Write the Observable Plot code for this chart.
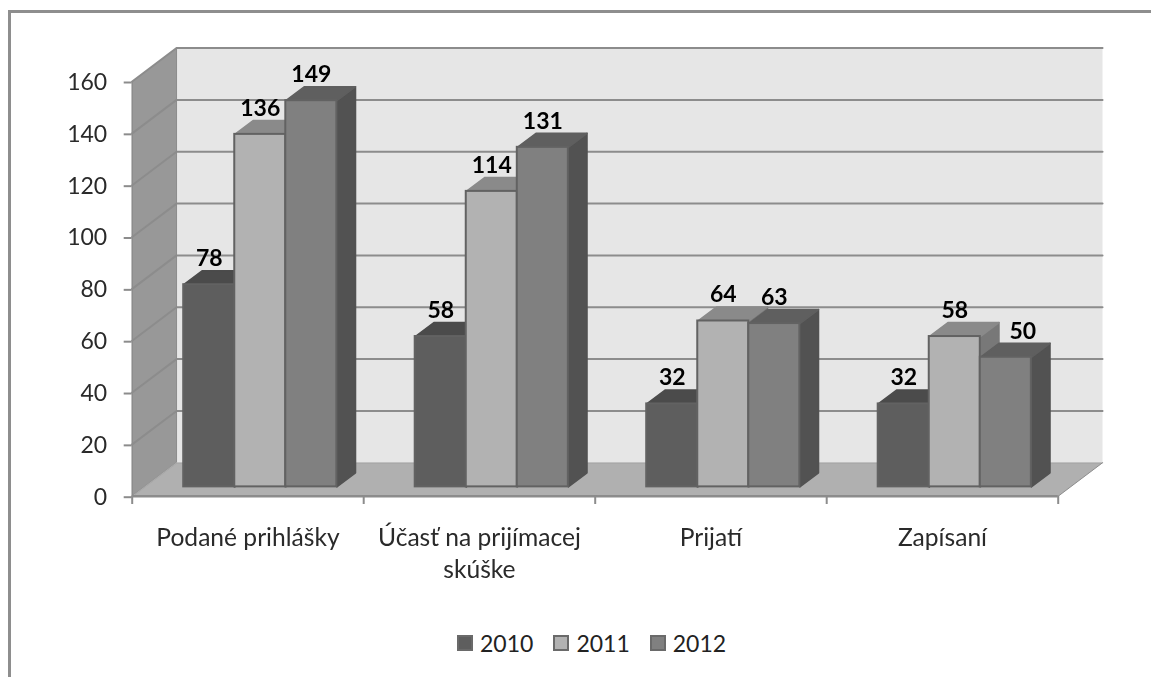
<!DOCTYPE html>
<html>
<head>
<meta charset="utf-8">
<script src="https://cdn.jsdelivr.net/npm/d3@7"></script>
<script src="https://cdn.jsdelivr.net/npm/@observablehq/plot@0.6"></script>
<style>
html,body{margin:0;padding:0;background:#fff;overflow:hidden}
#page{position:relative;width:1151px;height:677px;overflow:hidden;font-family:Lato,sans-serif}
#frameTop{position:absolute;left:8px;top:10px;width:1143px;height:3px;background:#8e8e8e}
#frameLeft{position:absolute;left:8px;top:10px;width:3px;height:667px;background:#8e8e8e}
#legend{position:absolute;left:457px;top:629px;height:28px;display:flex;align-items:center;font-size:23px;color:#222}
#legend .sw{width:16px;height:16px;box-sizing:border-box;border:2px solid #6a6a6a;margin-right:7px}
#legend .it{display:flex;align-items:center;margin-right:20px}
#chart{position:absolute;left:0;top:0}
svg{filter:blur(0.45px)}
</style>
</head>
<body>
<div id="page">
<div id="chart"></div>
<div id="frameTop"></div>
<div id="frameLeft"></div>
<div id="legend"></div>
</div>
<script>
const categories = ["Podané prihlášky", "Účasť na prijímacej\nskúške", "Prijatí", "Zapísaní"];
const years = ["2010", "2011", "2012"];
const values2010 = [78, 58, 32, 32];
const values2011 = [136, 114, 64, 58];
const values2012 = [149, 131, 63, 50];
const series = [values2010, values2011, values2012];
const yTicks = [0, 20, 40, 60, 80, 100, 120, 140, 160];
const frontColors = ["#5e5e5e", "#b2b2b2", "#808080"];
const topColors = ["#4b4b4b", "#8a8a8a", "#5f5f5f"];
const sideColors = ["#4b4b4b", "#787878", "#525252"];

// layout in data units: one x unit = one category slot, one y unit = one count
const wallDX = 0.1915, wallDY = 12.9;   // depth of the chart box
const barDX = 0.0807, barDY = 5.4;      // depth of a bar
const baseY = 3.6;                      // bars stand this far "into" the floor
const barW = 0.2205, groupStart = 0.2225;

const poly = (pts, fill, stroke = fill, sw = 1.5) =>
  Plot.line(pts, {x: d => d[0], y: d => d[1], fill, stroke, strokeWidth: sw, strokeLinejoin: "round", curve: "linear"});

const marks = [];
// box: back wall, floor, side wall
marks.push(poly([[wallDX, wallDY], [4 + wallDX, wallDY], [4 + wallDX, 160 + wallDY], [wallDX, 160 + wallDY], [wallDX, wallDY]], "#e6e6e6", "#e6e6e6", 0));
marks.push(poly([[0, 0], [4, 0], [4 + wallDX, wallDY], [wallDX, wallDY], [0, 0]], "#b0b0b0", "#b0b0b0", 0));
marks.push(poly([[0, 0], [wallDX, wallDY], [wallDX, 160 + wallDY], [0, 160], [0, 0]], "#989898", "#989898", 0));
// gridlines along the wall
for (const t of yTicks) {
  marks.push(Plot.line([[0, t], [wallDX, t + wallDY], [4 + wallDX, t + wallDY]], {x: d => d[0], y: d => d[1], stroke: "#8c8c8c", strokeWidth: t === 0 ? 1.5 : 2, strokeOpacity: t === 0 ? 0.35 : 1}));
}
marks.push(Plot.ruleX([wallDX], {y1: () => wallDY, y2: () => 160 + wallDY, stroke: "#8c8c8c", strokeWidth: 1}));
marks.push(Plot.ruleX([0], {y1: () => 0, y2: () => 160, stroke: "#8c8c8c", strokeWidth: 1.5}));
marks.push(Plot.ruleY([0], {x1: () => 0, x2: () => 4, stroke: "#8c8c8c", strokeWidth: 2.5}));
marks.push(Plot.line([[4, 0], [4 + wallDX, wallDY]], {x: d => d[0], y: d => d[1], stroke: "#8c8c8c", strokeWidth: 1}));

// bars, back-to-front
categories.forEach((c, ci) => {
  series.forEach((vals, si) => {
    const v = vals[ci];
    const x1 = ci + groupStart + si * barW, x2 = x1 + barW;
    const b = baseY, t = baseY + v;
    marks.push(poly([[x2, b], [x2 + barDX, b + barDY], [x2 + barDX, t + barDY], [x2, t], [x2, b]], sideColors[si]));
    marks.push(poly([[x1, t], [x1 + barDX, t + barDY], [x2 + barDX, t + barDY], [x2, t], [x1, t]], topColors[si]));
    marks.push(Plot.rect([v], {x1: () => x1, x2: () => x2, y1: () => b, y2: () => t, fill: frontColors[si], stroke: "#626262", strokeWidth: 2}));
  });
});

// value labels; the last one sits to the right of its bar, as in the source chart
const labelRows = categories.flatMap((c, ci) => series.map((vals, si) => ({
  x: ci + groupStart + (si + 0.5) * barW + (ci === 3 && si === 2 ? 0.073 : 0),
  y: baseY + vals[ci], v: vals[ci]
})));
marks.push(Plot.text(labelRows, {x: "x", y: "y", text: d => String(d.v), dy: -26, dx: 0, fontWeight: "bold", fontSize: 23, fill: "#000", fontFamily: "Lato"}));

// axes
marks.push(Plot.axisY({ticks: yTicks, tickSize: 8, tickPadding: 17, dy: 1, stroke: "#8c8c8c", strokeWidth: 2, tickFormat: d => String(d), fontSize: 23, fill: "#2a2a2a", label: null, fontFamily: "Lato"}));
marks.push(Plot.ruleX([0, 1, 2, 3, 4], {x: d => d, y1: () => 0, y2: () => -3.2, stroke: "#8c8c8c", strokeWidth: 2}));
marks.push(Plot.text(categories, {x: (d, i) => i + 0.5, y: () => 0, text: d => d, dy: 27, lineAnchor: "top", lineHeight: 1.3, fontSize: 24.6, fill: "#2a2a2a", fontFamily: "Lato"}));

const plot = Plot.plot({
  width: 1151, height: 677,
  marginLeft: 131.7, marginRight: 93.3, marginTop: 81, marginBottom: 181.3,
  style: {background: "transparent", overflow: "visible"},
  x: {type: "linear", domain: [0, 4], axis: null},
  y: {type: "linear", domain: [0, 160], axis: null},
  marks
});
document.getElementById("chart").appendChild(plot);

const legend = document.getElementById("legend");
years.forEach((y, i) => {
  const it = document.createElement("div"); it.className = "it";
  const sw = document.createElement("div"); sw.className = "sw"; sw.style.background = frontColors[i];
  const tx = document.createElement("span"); tx.textContent = y;
  it.append(sw, tx); legend.append(it);
});
</script>
</body>
</html>
